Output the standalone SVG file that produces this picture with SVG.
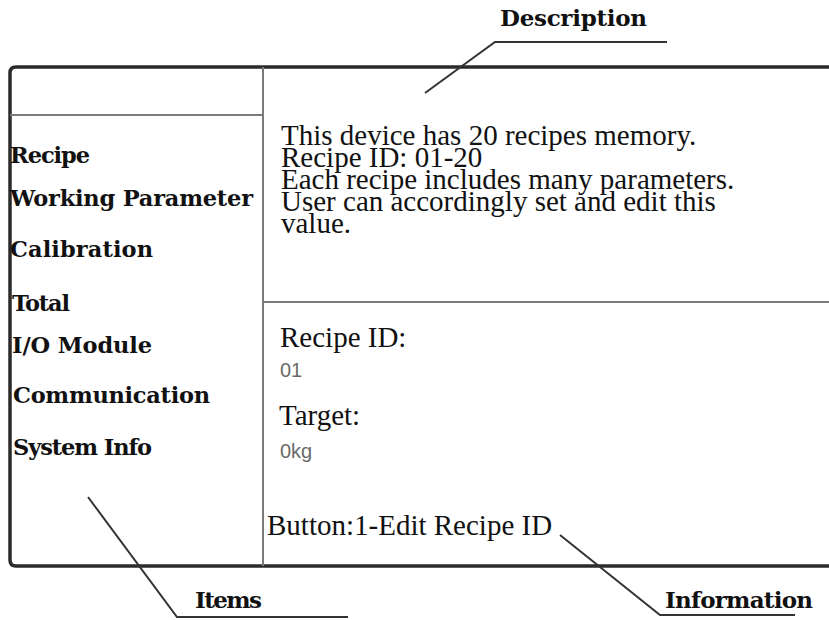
<svg xmlns="http://www.w3.org/2000/svg" width="829" height="620" viewBox="0 0 829 620">
  <style>
    .frame { fill: none; stroke: #2b2b2b; stroke-width: 3.5; }
    .div { stroke: #7a7a7a; stroke-width: 2; fill: none; }
    .leader { fill: none; stroke: #333; stroke-width: 2; }
    .item { font-family: "DejaVu Serif", serif; font-weight: bold; font-size: 22.5px; fill: #111; }
    .label { font-family: "DejaVu Serif", serif; font-weight: bold; font-size: 23px; fill: #111; }
    .body { font-family: "Liberation Serif", "Times New Roman", serif; font-size: 29px; fill: #111; }
    .val { font-family: "Liberation Sans", Arial, sans-serif; font-size: 20px; fill: #6a6a6a; }
  </style>
  <rect width="829" height="620" fill="#fff"/>

  <g id="frame">
    <path class="frame" d="M835,67 H16 Q10,67 10,73 V560 Q10,566 16,566 H835"/>
    <line class="div" x1="263" y1="67" x2="263" y2="566"/>
    <line class="div" x1="10" y1="115" x2="263" y2="115"/>
    <line class="div" x1="263" y1="302" x2="835" y2="302"/>
  </g>

  <g id="items">
    <text class="item" x="10" y="163" textLength="80">Recipe</text>
    <text class="item" x="10" y="206" textLength="243">Working Parameter</text>
    <text class="item" x="10" y="257" textLength="143">Calibration</text>
    <text class="item" x="12" y="311" textLength="58">Total</text>
    <text class="item" x="12" y="353" textLength="140">I/O Module</text>
    <text class="item" x="13" y="403" textLength="197">Communication</text>
    <text class="item" x="13" y="455" textLength="139">System Info</text>
  </g>

  <g id="description">
    <text class="body" x="281" y="145">This device has 20 recipes memory.</text>
    <text class="body" x="281" y="167">Recipe ID: 01-20</text>
    <text class="body" x="281" y="189">Each recipe includes many parameters.</text>
    <text class="body" x="281" y="211">User can accordingly set and edit this</text>
    <text class="body" x="281" y="233">value.</text>
  </g>

  <g id="information">
    <text class="body" x="280" y="347">Recipe ID:</text>
    <text class="val" x="280" y="377">01</text>
    <text class="body" x="279" y="425">Target:</text>
    <text class="val" x="280" y="458">0kg</text>
    <text class="body" x="267" y="535">Button:1-Edit Recipe ID</text>
  </g>

  <g id="connectors">
    <polyline class="leader" points="425,93 495,42 667,42"/>
    <polyline class="leader" points="88,497 177,617 348,617"/>
    <polyline class="leader" points="560,535 660,615 795,615"/>
  </g>

  <g id="label-description">
    <text class="label" x="500" y="26" textLength="147">Description</text>
  </g>
  <g id="label-items">
    <text class="label" x="195" y="608" textLength="67">Items</text>
  </g>
  <g id="label-information">
    <text class="label" x="665" y="608" textLength="148">Information</text>
  </g>
</svg>
